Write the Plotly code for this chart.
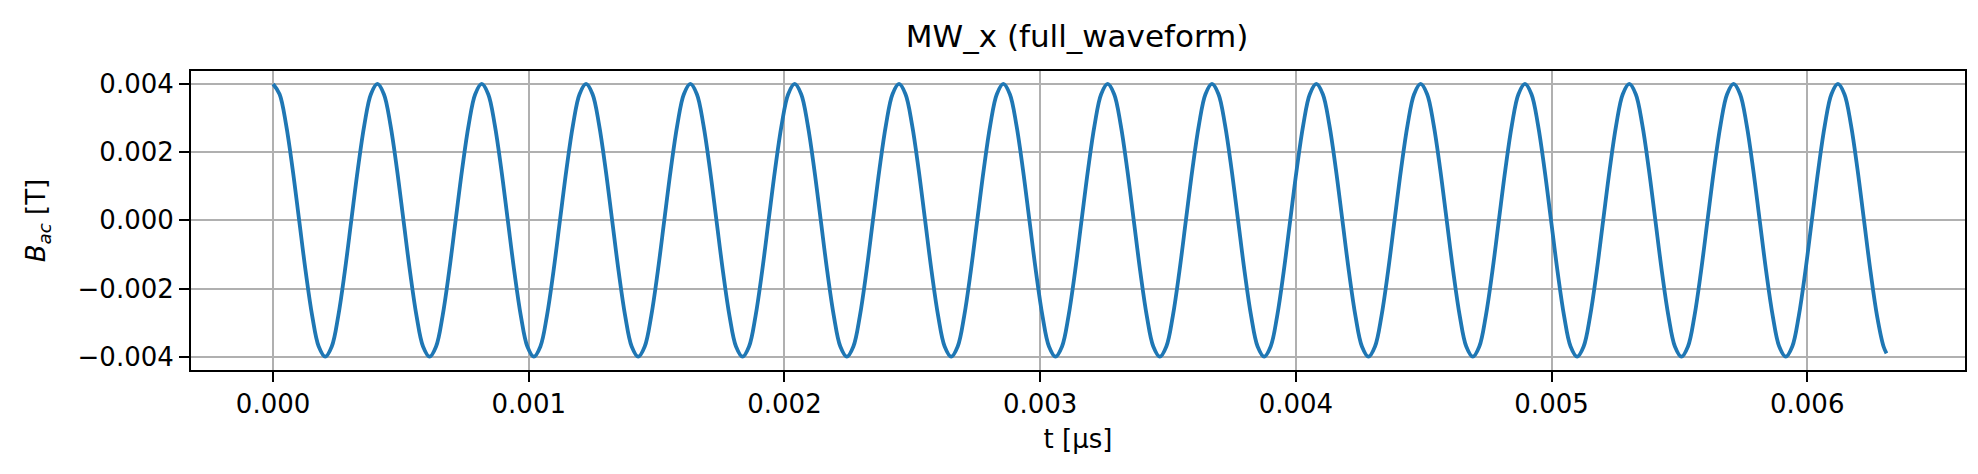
import plotly.graph_objects as go

# MW_x full waveform samples (t in microseconds, B in tesla)
# sixteen samples per period, period ~0.000408 us, ends at t ~0.00631
t_us = [
    0.0000000, 0.0000255, 0.0000510, 0.0000765, 0.0001020, 0.0001275, 0.0001530, 0.0001785,
    0.0002040, 0.0002295, 0.0002550, 0.0002805, 0.0003060, 0.0003315, 0.0003570, 0.0003825,
    0.0004080, 0.0004335, 0.0004590, 0.0004845, 0.0005100, 0.0005355, 0.0005610, 0.0005865,
    0.0006120, 0.0006375, 0.0006630, 0.0006885, 0.0007140, 0.0007395, 0.0007650, 0.0007905,
    0.0008160, 0.0008415, 0.0008670, 0.0008925, 0.0009180, 0.0009435, 0.0009690, 0.0009945,
    0.0010200, 0.0010455, 0.0010710, 0.0010965, 0.0011220, 0.0011475, 0.0011730, 0.0011985,
    0.0012240, 0.0012495, 0.0012750, 0.0013005, 0.0013260, 0.0013515, 0.0013770, 0.0014025,
    0.0014280, 0.0014535, 0.0014790, 0.0015045, 0.0015300, 0.0015555, 0.0015810, 0.0016065,
    0.0016320, 0.0016575, 0.0016830, 0.0017085, 0.0017340, 0.0017595, 0.0017850, 0.0018105,
    0.0018360, 0.0018615, 0.0018870, 0.0019125, 0.0019380, 0.0019635, 0.0019890, 0.0020145,
    0.0020400, 0.0020655, 0.0020910, 0.0021165, 0.0021420, 0.0021675, 0.0021930, 0.0022185,
    0.0022440, 0.0022695, 0.0022950, 0.0023205, 0.0023460, 0.0023715, 0.0023970, 0.0024225,
    0.0024480, 0.0024735, 0.0024990, 0.0025245, 0.0025500, 0.0025755, 0.0026010, 0.0026265,
    0.0026520, 0.0026775, 0.0027030, 0.0027285, 0.0027540, 0.0027795, 0.0028050, 0.0028305,
    0.0028560, 0.0028815, 0.0029070, 0.0029325, 0.0029580, 0.0029835, 0.0030090, 0.0030345,
    0.0030600, 0.0030855, 0.0031110, 0.0031365, 0.0031620, 0.0031875, 0.0032130, 0.0032385,
    0.0032640, 0.0032895, 0.0033150, 0.0033405, 0.0033660, 0.0033915, 0.0034170, 0.0034425,
    0.0034680, 0.0034935, 0.0035190, 0.0035445, 0.0035700, 0.0035955, 0.0036210, 0.0036465,
    0.0036720, 0.0036975, 0.0037230, 0.0037485, 0.0037740, 0.0037995, 0.0038250, 0.0038505,
    0.0038760, 0.0039015, 0.0039270, 0.0039525, 0.0039780, 0.0040035, 0.0040290, 0.0040545,
    0.0040800, 0.0041055, 0.0041310, 0.0041565, 0.0041820, 0.0042075, 0.0042330, 0.0042585,
    0.0042840, 0.0043095, 0.0043350, 0.0043605, 0.0043860, 0.0044115, 0.0044370, 0.0044625,
    0.0044880, 0.0045135, 0.0045390, 0.0045645, 0.0045900, 0.0046155, 0.0046410, 0.0046665,
    0.0046920, 0.0047175, 0.0047430, 0.0047685, 0.0047940, 0.0048195, 0.0048450, 0.0048705,
    0.0048960, 0.0049215, 0.0049470, 0.0049725, 0.0049980, 0.0050235, 0.0050490, 0.0050745,
    0.0051000, 0.0051255, 0.0051510, 0.0051765, 0.0052020, 0.0052275, 0.0052530, 0.0052785,
    0.0053040, 0.0053295, 0.0053550, 0.0053805, 0.0054060, 0.0054315, 0.0054570, 0.0054825,
    0.0055080, 0.0055335, 0.0055590, 0.0055845, 0.0056100, 0.0056355, 0.0056610, 0.0056865,
    0.0057120, 0.0057375, 0.0057630, 0.0057885, 0.0058140, 0.0058395, 0.0058650, 0.0058905,
    0.0059160, 0.0059415, 0.0059670, 0.0059925, 0.0060180, 0.0060435, 0.0060690, 0.0060945,
    0.0061200, 0.0061455, 0.0061710, 0.0061965, 0.0062220, 0.0062475, 0.0062730, 0.0062985,
    0.0063100,
]
b_ac = [
    0.004, 0.0037, 0.0028, 0.0015, 0.0, -0.0015, -0.0028, -0.0037,
    -0.004, -0.0037, -0.0028, -0.0015, 0.0, 0.0015, 0.0028, 0.0037,
    0.004, 0.0037, 0.0028, 0.0015, 0.0, -0.0015, -0.0028, -0.0037,
    -0.004, -0.0037, -0.0028, -0.0015, 0.0, 0.0015, 0.0028, 0.0037,
    0.004, 0.0037, 0.0028, 0.0015, 0.0, -0.0015, -0.0028, -0.0037,
    -0.004, -0.0037, -0.0028, -0.0015, 0.0, 0.0015, 0.0028, 0.0037,
    0.004, 0.0037, 0.0028, 0.0015, 0.0, -0.0015, -0.0028, -0.0037,
    -0.004, -0.0037, -0.0028, -0.0015, 0.0, 0.0015, 0.0028, 0.0037,
    0.004, 0.0037, 0.0028, 0.0015, 0.0, -0.0015, -0.0028, -0.0037,
    -0.004, -0.0037, -0.0028, -0.0015, 0.0, 0.0015, 0.0028, 0.0037,
    0.004, 0.0037, 0.0028, 0.0015, 0.0, -0.0015, -0.0028, -0.0037,
    -0.004, -0.0037, -0.0028, -0.0015, 0.0, 0.0015, 0.0028, 0.0037,
    0.004, 0.0037, 0.0028, 0.0015, 0.0, -0.0015, -0.0028, -0.0037,
    -0.004, -0.0037, -0.0028, -0.0015, 0.0, 0.0015, 0.0028, 0.0037,
    0.004, 0.0037, 0.0028, 0.0015, 0.0, -0.0015, -0.0028, -0.0037,
    -0.004, -0.0037, -0.0028, -0.0015, 0.0, 0.0015, 0.0028, 0.0037,
    0.004, 0.0037, 0.0028, 0.0015, 0.0, -0.0015, -0.0028, -0.0037,
    -0.004, -0.0037, -0.0028, -0.0015, 0.0, 0.0015, 0.0028, 0.0037,
    0.004, 0.0037, 0.0028, 0.0015, 0.0, -0.0015, -0.0028, -0.0037,
    -0.004, -0.0037, -0.0028, -0.0015, 0.0, 0.0015, 0.0028, 0.0037,
    0.004, 0.0037, 0.0028, 0.0015, 0.0, -0.0015, -0.0028, -0.0037,
    -0.004, -0.0037, -0.0028, -0.0015, 0.0, 0.0015, 0.0028, 0.0037,
    0.004, 0.0037, 0.0028, 0.0015, 0.0, -0.0015, -0.0028, -0.0037,
    -0.004, -0.0037, -0.0028, -0.0015, 0.0, 0.0015, 0.0028, 0.0037,
    0.004, 0.0037, 0.0028, 0.0015, 0.0, -0.0015, -0.0028, -0.0037,
    -0.004, -0.0037, -0.0028, -0.0015, 0.0, 0.0015, 0.0028, 0.0037,
    0.004, 0.0037, 0.0028, 0.0015, 0.0, -0.0015, -0.0028, -0.0037,
    -0.004, -0.0037, -0.0028, -0.0015, 0.0, 0.0015, 0.0028, 0.0037,
    0.004, 0.0037, 0.0028, 0.0015, 0.0, -0.0015, -0.0028, -0.0037,
    -0.004, -0.0037, -0.0028, -0.0015, 0.0, 0.0015, 0.0028, 0.0037,
    0.004, 0.0037, 0.0028, 0.0015, 0.0, -0.0015, -0.0028, -0.0037,
    -0.0039,
]

x_ticks = [0.000, 0.001, 0.002, 0.003, 0.004, 0.005, 0.006]
y_ticks = [-0.004, -0.002, 0.000, 0.002, 0.004]

FONT = "DejaVu Sans"

fig = go.Figure()
fig.add_trace(go.Scatter(
    x=t_us, y=b_ac, mode="lines",
    line=dict(color="#1f77b4", width=3.8, shape="spline", smoothing=1.0),
    showlegend=False,
))

axis_common = dict(
    showline=True, linecolor="black", linewidth=2, mirror=True,
    showgrid=True, gridcolor="#b0b0b0", gridwidth=1.6,
    zeroline=False, automargin=False,
    ticks="outside", ticklen=10, tickwidth=2, tickcolor="black",
    tickfont=dict(family=FONT, size=26, color="black"),
    tickformat=".3f",
)

fig.update_xaxes(
    range=[-0.000321, 0.006617], tickvals=x_ticks,
    title=dict(text="t [μs]", font=dict(family=FONT, size=26, color="black"), standoff=12),
    **axis_common,
)
fig.update_yaxes(
    range=[-0.00439, 0.00438], tickvals=y_ticks,
    title=dict(text="<i>B</i><sub><i>ac</i></sub> [T]",
               font=dict(family=FONT, size=26, color="black"), standoff=24),
    **axis_common,
)

fig.update_layout(
    template="none",
    width=1978, height=474,
    margin=dict(l=183, r=21, t=63, b=112),
    plot_bgcolor="white", paper_bgcolor="white",
    title=dict(text="MW_x (full_waveform)", x=0.5405, xanchor="center",
               y=0.94, yanchor="middle",
               font=dict(family=FONT, size=31, color="black")),
    font=dict(family=FONT),
)

fig.write_html("out.html")
